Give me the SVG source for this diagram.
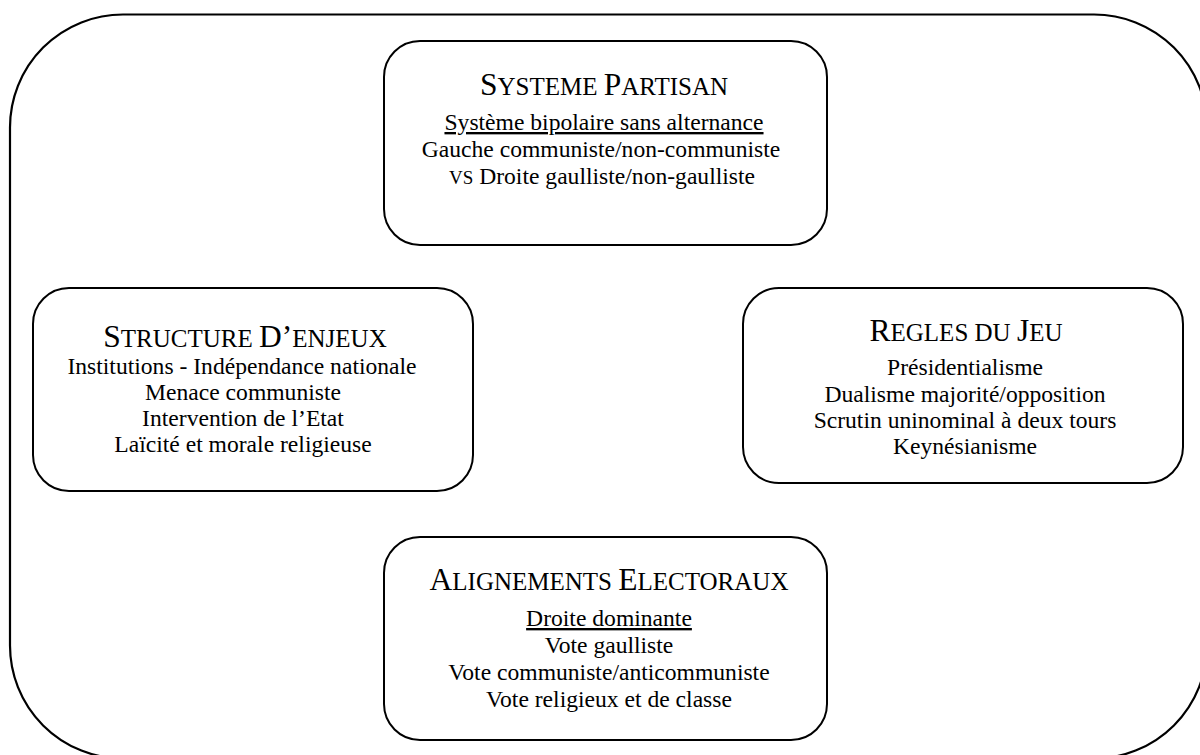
<svg xmlns="http://www.w3.org/2000/svg" width="1200" height="755" viewBox="0 0 1200 755">
<style>
.frame{fill:none;stroke:#000;stroke-width:2.2}
.box{fill:#fff;stroke:#000;stroke-width:2}
.txt text{fill:#000;text-anchor:middle}
.t{font-size:31.5px}
.sc{font-size:25px}
.b{font-size:23.6px}
.bsc{font-size:19px}
.u{text-decoration:underline}
</style>
<rect class="frame" x="10" y="14.5" width="1197" height="744" rx="113" ry="113"/>
<g id="connectors"></g>
<g id="systeme-partisan" class="txt" font-family="Liberation Serif, serif">
<rect class="box" x="384" y="41" width="443" height="204" rx="36" ry="36"/>
<text class="t" x="604" y="95">S<tspan class="sc">YSTEME </tspan>P<tspan class="sc">ARTISAN</tspan></text>
<text class="b u" x="604" y="130">Système bipolaire sans alternance</text>
<text class="b" x="601" y="157">Gauche communiste/non-communiste</text>
<text class="b" x="602" y="184"><tspan class="bsc">VS</tspan> Droite gaulliste/non-gaulliste</text>
</g>
<g id="structure-enjeux" class="txt" font-family="Liberation Serif, serif">
<rect class="box" x="33" y="288" width="440" height="203" rx="36" ry="36"/>
<text class="t" x="245" y="347">S<tspan class="sc">TRUCTURE </tspan>D’<tspan class="sc">ENJEUX</tspan></text>
<text class="b" x="242" y="374">Institutions - Indépendance nationale</text>
<text class="b" x="243" y="400">Menace communiste</text>
<text class="b" x="243" y="426">Intervention de l’Etat</text>
<text class="b" x="243" y="452">Laïcité et morale religieuse</text>
</g>
<g id="regles-du-jeu" class="txt" font-family="Liberation Serif, serif">
<rect class="box" x="743" y="288" width="440" height="195" rx="36" ry="36"/>
<text class="t" x="966" y="341">R<tspan class="sc">EGLES DU </tspan>J<tspan class="sc">EU</tspan></text>
<text class="b" x="965" y="375">Présidentialisme</text>
<text class="b" x="965" y="402">Dualisme majorité/opposition</text>
<text class="b" x="965" y="428">Scrutin uninominal à deux tours</text>
<text class="b" x="965" y="454">Keynésianisme</text>
</g>
<g id="alignements-electoraux" class="txt" font-family="Liberation Serif, serif">
<rect class="box" x="384" y="537" width="443" height="203" rx="36" ry="36"/>
<text class="t" x="609" y="590">A<tspan class="sc">LIGNEMENTS </tspan>E<tspan class="sc">LECTORAUX</tspan></text>
<text class="b u" x="609" y="626">Droite dominante</text>
<text class="b" x="609" y="653">Vote gaulliste</text>
<text class="b" x="609" y="680">Vote communiste/anticommuniste</text>
<text class="b" x="609" y="707">Vote religieux et de classe</text>
</g>
</svg>
